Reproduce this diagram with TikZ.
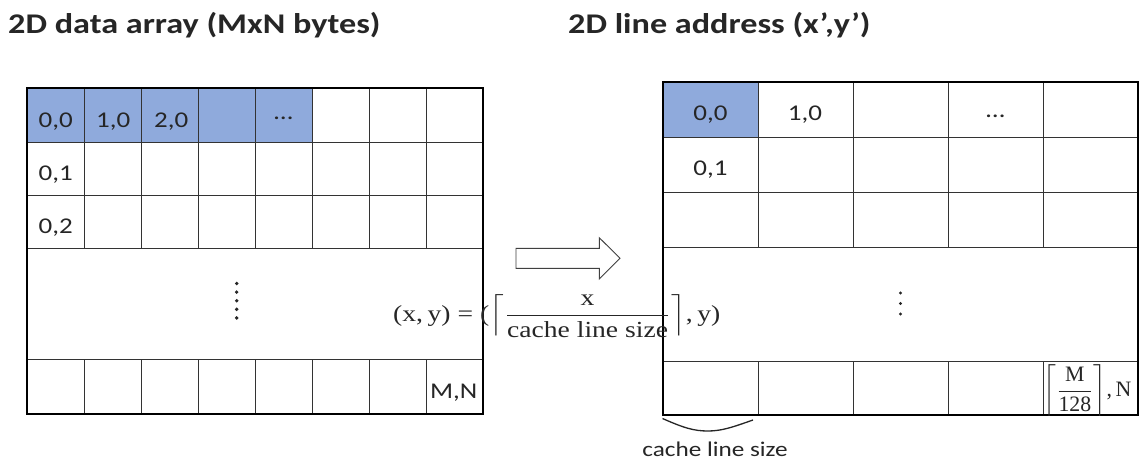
\documentclass[tikz,border=0pt]{standalone}
\usepackage{fontspec}
\setmainfont{Carlito}[FakeStretch=1.2]
\newfontfamily\fserif{Liberation Serif}

\definecolor{cellblue}{HTML}{8FAADC}
\definecolor{ink}{HTML}{262626}

\begin{document}
\begin{tikzpicture}[x=1pt,y=-1pt,
  gridin/.style={line width=1pt, draw=black!80},
  gridout/.style={line width=1.5pt, draw=black},
  cell/.style={font=\fontsize{22.5}{26}\selectfont, text=ink, inner sep=0pt},
  heading/.style={font=\fontsize{28.5}{32}\selectfont\bfseries, text=ink, inner sep=0pt, anchor=base west},
  formula/.style={text=ink, inner sep=0pt, anchor=west, font=\fontsize{10}{12}\selectfont\fserif},
  vdot/.style={fill=ink}]

% canvas
\fill[white] (0,0) rectangle (1144,461);
\useasboundingbox (0,0) rectangle (1144,461);

% headings
\node[heading] (ttlA) at (8,33.3) {2D data array (MxN bytes)};
\node[heading] (ttlB) at (568,33.3) {2D line address (x’,y’)};

% ---------- left grid: M x N bytes ----------
\fill[cellblue] (27,88) rectangle (312,142);
\foreach \yy in {142,195,248,359}
  \draw[gridin] (27,\yy) -- (483,\yy);
\foreach \xx in {84,141,198,255,312,369,426}{
  \draw[gridin] (\xx,88) -- (\xx,248);
  \draw[gridin] (\xx,359) -- (\xx,414);
}
\draw[gridout] (27,88) rectangle (483,414);

\node[cell, anchor=base west] (a00) at (38.5,127) {0,0};
\node[cell, anchor=base west] (a10) at (96,127) {1,0};
\node[cell, anchor=base west] (a20) at (154,127) {2,0};
\node[cell, anchor=base] (adots) at (283.5,119) {…};
\node[cell, anchor=base west] (a01) at (38.5,180) {0,1};
\node[cell, anchor=base west] (a02) at (38.5,233) {0,2};
\node[cell, anchor=base east] (aMN) at (477.5,398) {M,N};
\foreach \k in {0,...,4}
  \fill[vdot] (236.7,283.5+8.6*\k) circle (1.9pt);

% ---------- right grid: cache lines ----------
\fill[cellblue] (663,82) rectangle (758,137);
\foreach \yy in {137,192,247,361}
  \draw[gridin] (663,\yy) -- (1138,\yy);
\foreach \xx in {758,853,948,1043}{
  \draw[gridin] (\xx,82) -- (\xx,247);
  \draw[gridin] (\xx,361) -- (\xx,415);
}
\draw[gridout] (663,82) rectangle (1138,415);

\node[cell, anchor=base] (b00) at (710.5,120) {0,0};
\node[cell, anchor=base] (b10) at (805,120) {1,0};
\node[cell, anchor=base] (bdots) at (995.5,117) {…};
\node[cell, anchor=base] (b01) at (710.5,175) {0,1};
\foreach \k in {0,...,2}
  \fill[vdot] (900.5,293+10.5*\k) circle (1.7pt);

\begin{scope}
  \clip (1043,361) rectangle (1144,415);
  \node[formula] (bMN) at (1043,391)
    {\scalebox{2.18}[2.2]{$\left\lceil{\displaystyle\frac{\mbox{\fserif M}}{\mbox{\fserif 128}}}\right\rceil$,\,N}};
\end{scope}

% brace under one cache line
\coordinate (brL) at (662.5,418.5);
\coordinate (brM) at (708,431);
\coordinate (brR) at (753,420);
\draw[line width=1.3pt, draw=ink] (brL) .. controls (684,428) and (694,431) .. (brM)
  .. controls (722,431) and (733,427) .. (brR);
\node[cell, font=\fontsize{21}{24}\selectfont, anchor=base] (cls) at (715,456.5) {cache line size};

% mapping arrow
\draw[line width=0.9pt, draw=black!75, fill=white]
  (516,248.3) -- (599.3,248.3) -- (599.3,237.7) -- (620,258.3)
  -- (599.3,279) -- (599.3,268.3) -- (516,268.3) -- cycle;

% address formula
\node[formula] (fml) at (393,316)
  {\scalebox{2.76}[2.3]{(x,\,y) = ($\left\lceil{\displaystyle\frac{\mbox{\fserif x}}{\mbox{\fserif cache line size}}}\right\rceil$,\,y)}};
\end{tikzpicture}
\end{document}
